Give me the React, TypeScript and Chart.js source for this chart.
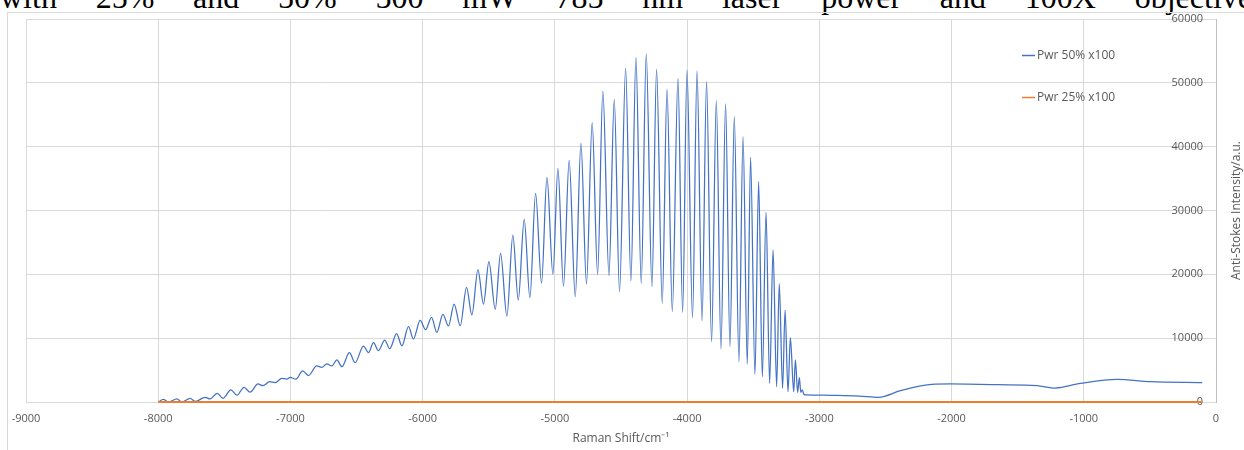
import React, { useEffect, useRef } from "react";
import { Chart, registerables } from "chart.js";

Chart.register(...registerables);

// ---------- data ----------
const ramanShift50 = [
  -8000, -7961, -7923, -7858, -7822, -7759, -7718, -7646, -7608, -7554, -7510,
  -7451, -7404, -7351, -7305, -7246, -7208, -7157, -7115, -7065, -7027, -7002,
  -6958, -6908, -6864, -6801, -6763, -6725, -6687, -6649, -6611, -6554, -6511,
  -6448, -6410, -6372, -6334, -6287, -6249, -6197, -6157, -6107, -6070, -6019,
  -5978, -5933, -5893, -5847, -5805, -5762, -5716, -5668, -5628, -5582, -5540,
  -5499, -5451, -5411, -5363, -5318, -5277, -5232, -5189, -5146, -5101, -5060,
  -5015, -4977, -4935, -4892, -4846, -4803, -4761, -4718, -4677, -4637, -4591,
  -4551, -4511, -4465, -4425, -4387, -4347, -4309, -4266, -4231, -4188, -4152,
  -4112, -4069, -4034, -4001, -3959, -3925, -3887, -3853, -3815, -3779, -3744,
  -3709, -3676, -3643, -3608, -3577, -3545, -3520, -3487, -3459, -3431, -3403,
  -3376, -3350, -3323, -3303, -3278, -3259, -3237, -3219, -3194, -3181, -3164,
  -3151, -3140, -3130, -3115, -3100, -2892, -2700, -2551, -2387, -2211, -2009,
  -1655, -1353, -1214, -1025, -747, -496, -104,
];
const intensity50 = [
  0, 420, 0, 490, 0, 560, 100, 730, 470, 1360, 570,
  1880, 1070, 2300, 1540, 2820, 2560, 3180, 3050, 3710, 3600, 3870,
  3580, 4880, 4150, 5640, 5430, 5960, 5640, 6580, 5530, 7730, 6160,
  8770, 7730, 9290, 8040, 9710, 8350, 10700, 8800, 11800, 9850, 12800,
  11330, 13270, 10920, 13740, 11910, 15350, 11950, 17970, 13630, 20680, 15350,
  21980, 14520, 23290, 13470, 26160, 15980, 28620, 16340, 32690, 18590, 35200,
  20000, 36610, 18170, 37860, 16500, 40530, 18490, 43760, 20000, 48720, 19790,
  47420, 17280, 52270, 18960, 54000, 18590, 54520, 18060, 52120, 15460, 49030,
  14150, 50710, 14050, 52000, 13210, 51860, 12690, 50180, 9450, 47200, 8300,
  46690, 8660, 44700, 6310, 41560, 5950, 38330, 4340, 34510, 3960, 29720,
  2930, 23810, 2400, 18540, 2150, 14410, 1610, 10070, 1610, 6580, 1520,
  3810, 1500, 1900, 1150, 1100, 1040, 930, 730, 1780, 2610, 2820,
  2720, 2560, 2190, 2920, 3550, 3180, 3030,
];
const ramanShift25 = [-8000, -6000, -4000, -2000, -104];
const intensity25 = [0, 0, 0, 0, 0];

const xTickValues = [-9000, -8000, -7000, -6000, -5000, -4000, -3000, -2000, -1000, 0];
const yTickValues = [0, 10000, 20000, 30000, 40000, 50000, 60000];
const seriesLabels = ["Pwr 50% x100", "Pwr 25% x100"];
const xAxisTitle = "Raman Shift/cm\u207B\u00B9";
const yAxisTitle = "Anti-Stokes Intensity/a.u.";
const captionText = "with 25% and 50% 500 mW 785 nm laser power and 100X objective";

// ---------- styles ----------
const FONT = "'Open Sans', 'Liberation Sans', sans-serif";
const TEXT_COLOR = "#595959";
const GRID_COLOR = "#d9d9d9";
const BLUE = "#4472C4";
const ORANGE = "#ED7D31";

const overlayPlugin = {
  id: "overlayLegendTitle",
  afterDraw(chart: any) {
    const ctx = chart.ctx as CanvasRenderingContext2D;
    const area = chart.chartArea;
    ctx.save();
    ctx.font = `12px ${FONT}`;
    ctx.textBaseline = "middle";
    ctx.textAlign = "left";
    const legendYs = [55.5, 97.5];
    chart.data.datasets.forEach((ds: any, i: number) => {
      const y = legendYs[i];
      ctx.strokeStyle = ds.borderColor;
      ctx.lineWidth = 1.5;
      ctx.beginPath();
      ctx.moveTo(1022, y);
      ctx.lineTo(1035, y);
      ctx.stroke();
      ctx.fillStyle = TEXT_COLOR;
      ctx.fillText(ds.label, 1037, y + 0.5);
    });
    ctx.translate(1237, (area.top + area.bottom) / 2);
    ctx.rotate(-Math.PI / 2);
    ctx.textAlign = "center";
    ctx.fillStyle = TEXT_COLOR;
    ctx.fillText(yAxisTitle, 0, 0);
    ctx.restore();
  },
};

export default function App() {
  const canvasRef = useRef<HTMLCanvasElement | null>(null);

  useEffect(() => {
    if (!canvasRef.current) return;
    const chart = new Chart(canvasRef.current, {
      type: "line",
      data: {
        datasets: [
          {
            label: seriesLabels[0],
            data: ramanShift50.map((x, i) => ({ x, y: intensity50[i] })),
            borderColor: BLUE,
            backgroundColor: BLUE,
            borderWidth: 1.25,
            pointRadius: 0,
            cubicInterpolationMode: "monotone",
            order: 1,
          },
          {
            label: seriesLabels[1],
            data: ramanShift25.map((x, i) => ({ x, y: intensity25[i] })),
            borderColor: ORANGE,
            backgroundColor: ORANGE,
            borderWidth: 2,
            pointRadius: 0,
            clip: false,
            order: 0,
          },
        ],
      },
      options: {
        responsive: false,
        animation: false,
        events: [],
        layout: { padding: { left: 26, right: 28, top: 19, bottom: 0 } },
        plugins: { legend: { display: false }, tooltip: { enabled: false }, title: { display: false } },
        scales: {
          x: {
            type: "linear",
            position: "bottom",
            min: -9000,
            max: 0,
            afterBuildTicks: (scale: any) => {
              scale.ticks = xTickValues.map((v) => ({ value: v }));
            },
            afterFit: (scale: any) => {
              scale.height = 48;
            },
            ticks: {
              color: TEXT_COLOR,
              font: { family: FONT, size: 11 },
              padding: 10,
              maxRotation: 0,
              autoSkip: false,
              callback: (v: any) => String(v),
            },
            grid: { color: GRID_COLOR, drawTicks: false, lineWidth: 1 },
            border: { display: true, color: GRID_COLOR },
            title: {
              display: true,
              text: xAxisTitle,
              color: TEXT_COLOR,
              font: { family: FONT, size: 12 },
              padding: { top: 0, bottom: 4 },
            },
          },
          y: {
            type: "linear",
            position: "right",
            min: 0,
            max: 60000,
            afterBuildTicks: (scale: any) => {
              scale.ticks = yTickValues.map((v) => ({ value: v }));
            },
            afterFit: (scale: any) => {
              scale.width = 0;
            },
            ticks: {
              mirror: true,
              color: TEXT_COLOR,
              font: { family: FONT, size: 11 },
              padding: -13,
              callback: (v: any) => String(v),
            },
            grid: { color: GRID_COLOR, drawTicks: false, lineWidth: 1 },
            border: { display: true, color: "#bfbfbf" },
          },
        },
      },
      plugins: [overlayPlugin],
    } as any);
    return () => chart.destroy();
  }, []);

  return (
    <div
      style={{
        position: "fixed",
        left: 0,
        top: 0,
        width: 1244,
        height: 450,
        overflow: "hidden",
        background: "#ffffff",
      }}
    >
      <div
        style={{
          position: "absolute",
          left: 0,
          top: -19,
          width: 1252,
          fontFamily: "'Liberation Serif', 'Times New Roman', serif",
          fontSize: 32,
          lineHeight: "32px",
          textAlign: "justify",
          textAlignLast: "justify",
          color: "#000",
        }}
      >
        {captionText}
      </div>
      <div
        style={{
          position: "absolute",
          left: 7,
          top: 12,
          width: 1300,
          height: 500,
          border: "1px solid #d9d9d9",
        }}
      />
      <canvas
        ref={canvasRef}
        width={1244}
        height={450}
        style={{ position: "absolute", left: 0, top: 0, width: 1244, height: 450 }}
      />
    </div>
  );
}
